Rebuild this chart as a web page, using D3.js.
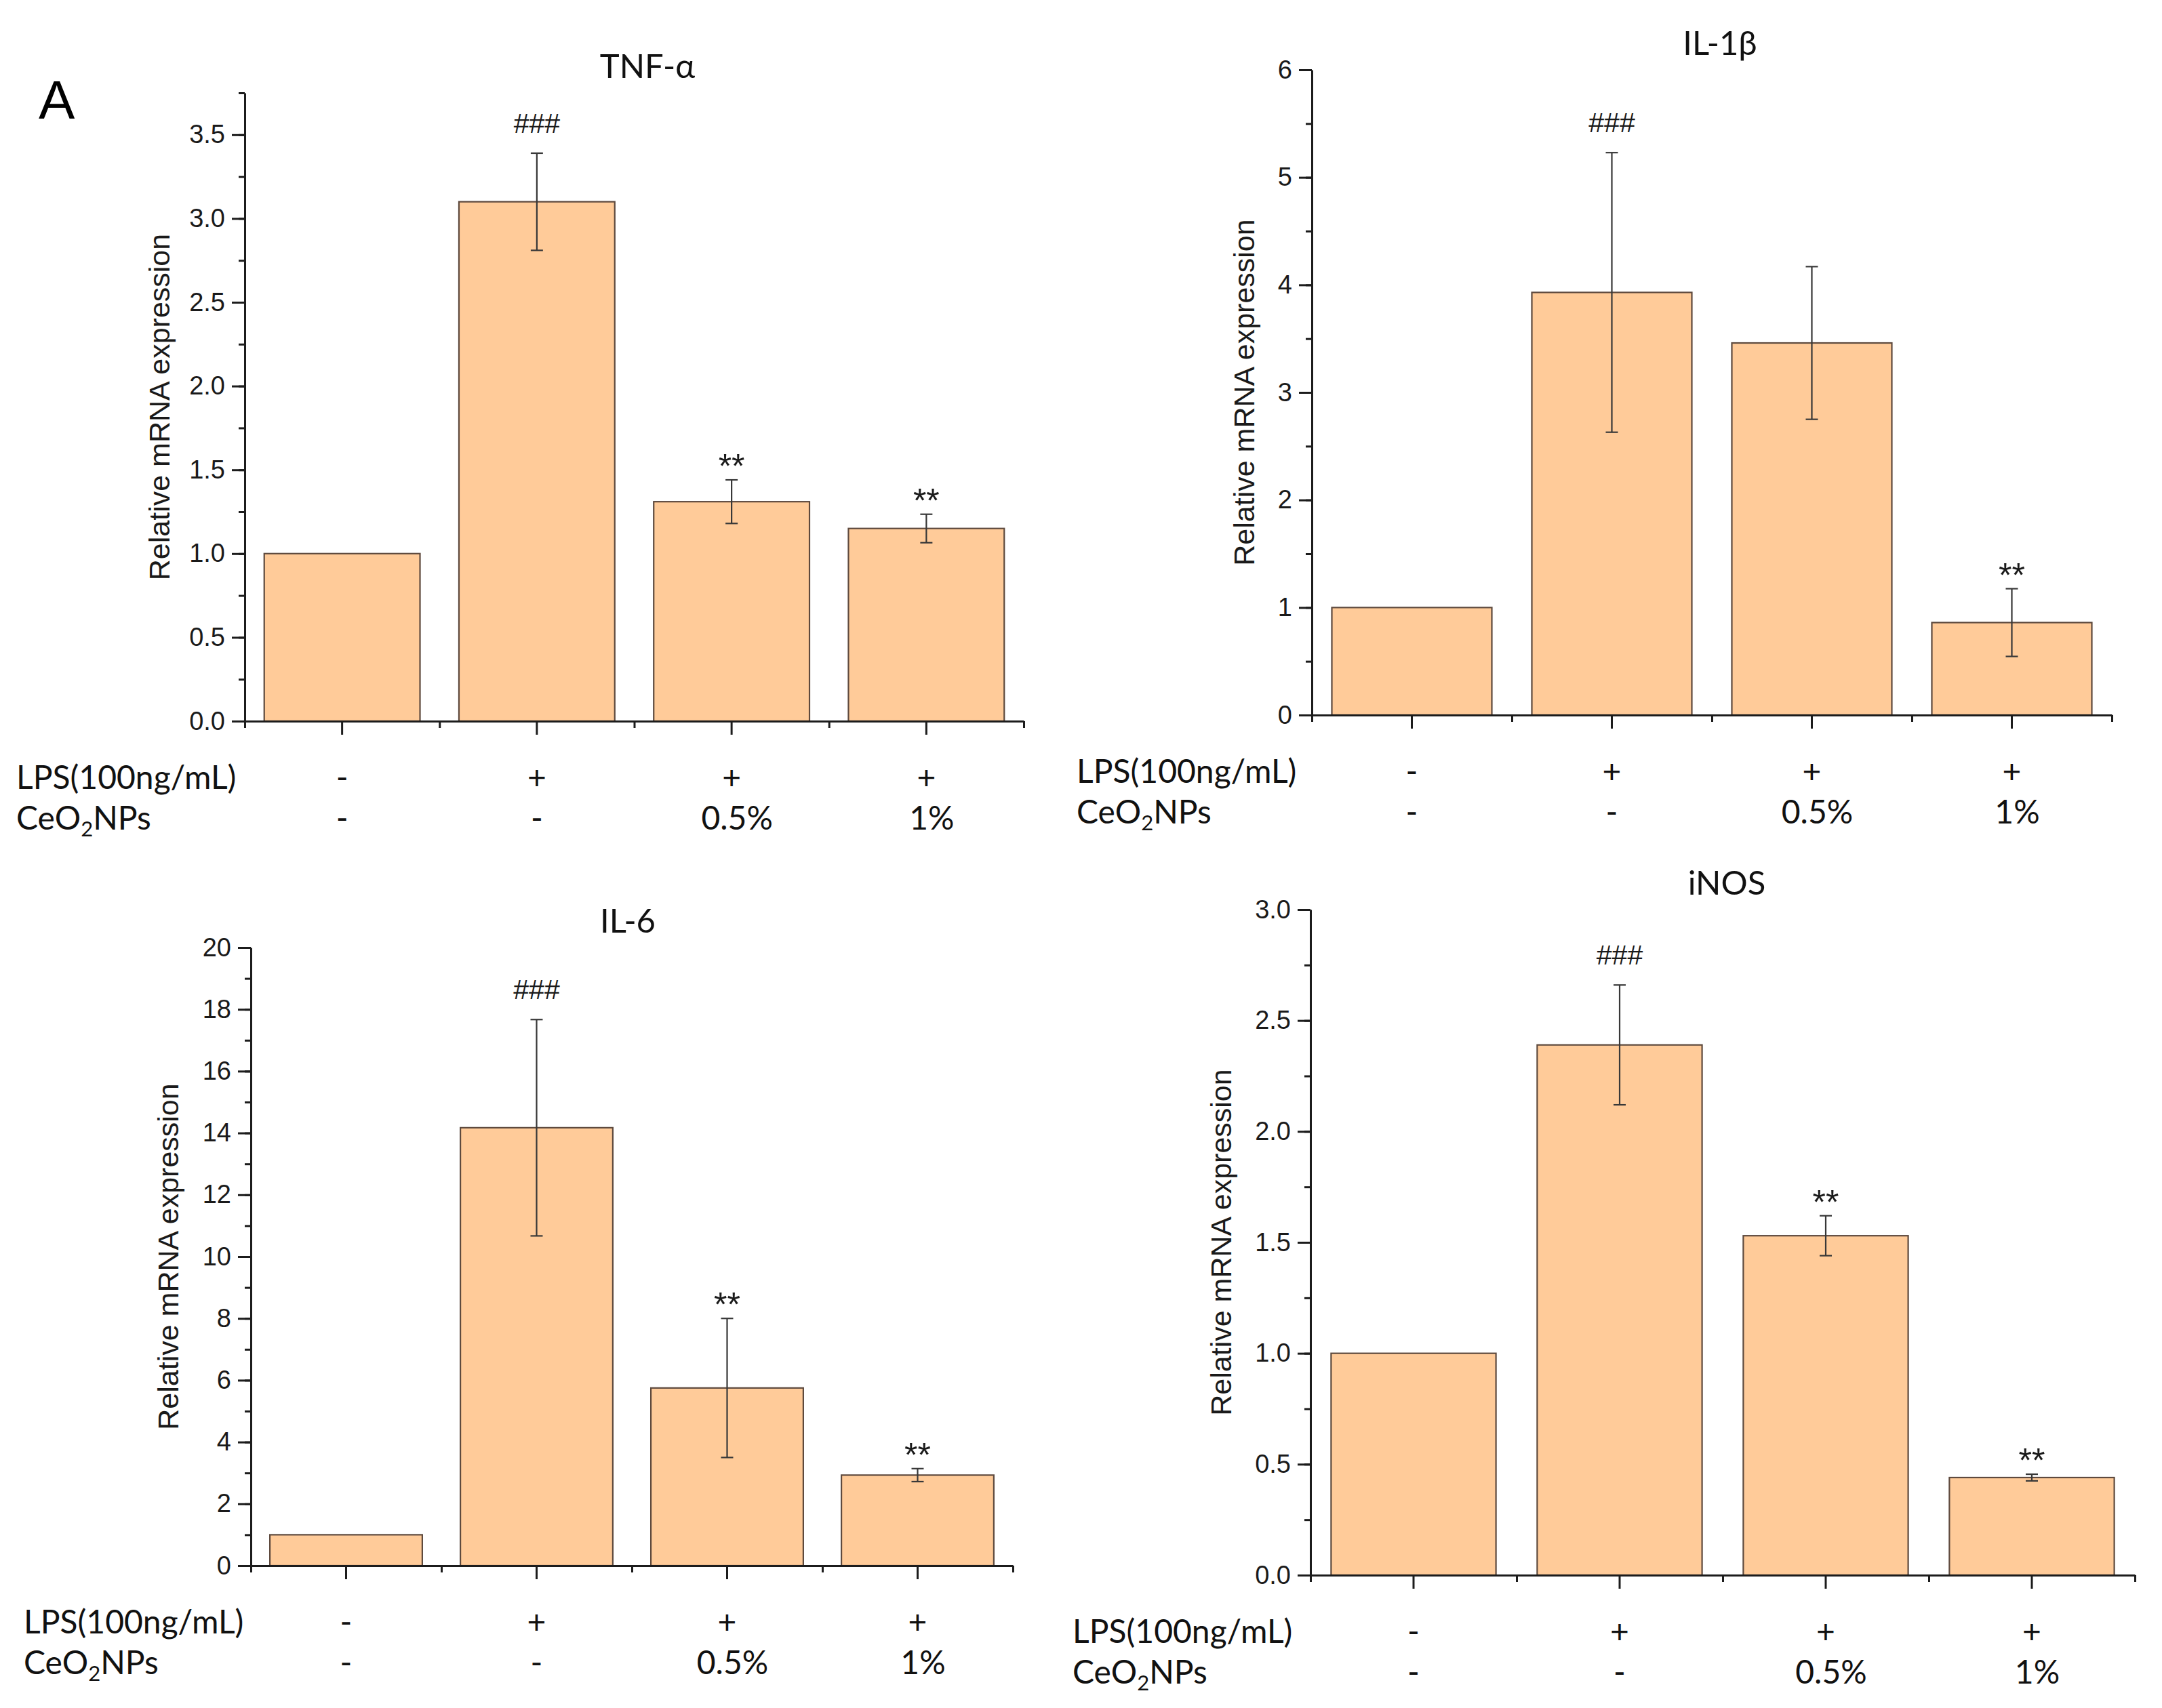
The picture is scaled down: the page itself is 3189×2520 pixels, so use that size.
<!DOCTYPE html>
<html>
<head>
<meta charset="utf-8">
<script src="https://cdn.jsdelivr.net/npm/d3@7"></script>
<style>
  body { margin: 0; background: #fff; }
  .tick text { font-family: "Liberation Sans", Arial, sans-serif; fill: #1a1a1a; }
  .domain, .tick line { stroke: #1c1c1c; stroke-width: 3; }
</style>
</head>
<body>
<script>
// groups and treatment rows
var groups = ["Control", "LPS", "LPS + 0.5%", "LPS + 1%"];
var lpsRow = ["-", "+", "+", "+"];
var ceoRow = ["-", "-", "0.5%", "1%"];

// TNF-a
var tnfMean = [1.00, 3.10, 1.31, 1.15];
var tnfErr  = [0, 0.29, 0.13, 0.085];
var tnfSig  = ["", "###", "**", "**"];
var tnfTicks = [0, 0.5, 1.0, 1.5, 2.0, 2.5, 3.0, 3.5];

// IL-1b
var il1bMean = [1.00, 3.93, 3.46, 0.86];
var il1bErr  = [0, 1.30, 0.71, 0.315];
var il1bSig  = ["", "###", "", "**"];
var il1bTicks = [0, 1, 2, 3, 4, 5, 6];

// IL-6
var il6Mean = [1.00, 14.17, 5.75, 2.93];
var il6Err  = [0, 3.50, 2.25, 0.21];
var il6Sig  = ["", "###", "**", "**"];
var il6Ticks = [0, 2, 4, 6, 8, 10, 12, 14, 16, 18, 20];

// iNOS
var inosMean = [1.00, 2.39, 1.53, 0.44];
var inosErr  = [0, 0.27, 0.09, 0.015];
var inosSig  = ["", "###", "**", "**"];
var inosTicks = [0, 0.5, 1.0, 1.5, 2.0, 2.5, 3.0];

var panels = [
  {title: "TNF-α", mean: tnfMean, err: tnfErr, sig: tnfSig, ticks: tnfTicks, minorStep: 0.25, yMax: 3.75, fmt: ".1f",
   box: {left: 361, right: 1510, top: 137, bottom: 1064, titleX: 955, labelX: 250, rowX: 24}},
  {title: "IL-1β", mean: il1bMean, err: il1bErr, sig: il1bSig, ticks: il1bTicks, minorStep: 0.5, yMax: 6, fmt: "d",
   box: {left: 1935, right: 3115, top: 103, bottom: 1055, titleX: 2537, labelX: 1850, rowX: 1588}},
  {title: "IL-6", mean: il6Mean, err: il6Err, sig: il6Sig, ticks: il6Ticks, minorStep: 1, yMax: 20, fmt: "d",
   box: {left: 370, right: 1494, top: 1398, bottom: 2310, titleX: 926, labelX: 263, rowX: 35}},
  {title: "iNOS", mean: inosMean, err: inosErr, sig: inosSig, ticks: inosTicks, minorStep: 0.25, yMax: 3, fmt: ".1f",
   box: {left: 1933, right: 3149, top: 1342, bottom: 2324, titleX: 2547, labelX: 1816, rowX: 1582}}
];

var svg = d3.select("body").append("svg")
            .attr("width", 3189).attr("height", 2520);

svg.append("text")
   .attr("x", 57).attr("y", 175)
   .style("font-family", "Liberation Sans, Arial, sans-serif")
   .style("font-size", "80px")
   .text("A");

var rowFont = "Lato, 'Open Sans', sans-serif";

function drawPanel(p) {
  var b = p.box;
  var x = d3.scaleBand().domain(groups).range([b.left, b.right])
            .paddingInner(0.2).paddingOuter(0.1);
  var y = d3.scaleLinear().domain([0, p.yMax]).range([b.bottom, b.top]);
  var g = svg.append("g");
  var cx = function(i){ return x(groups[i]) + x.bandwidth() / 2; };

  // bars
  g.append("g").selectAll("rect")
    .data(p.mean)
    .enter().append("rect")
    .attr("x", function(d, i){ return x(groups[i]); })
    .attr("y", function(d){ return y(d); })
    .attr("width", x.bandwidth())
    .attr("height", function(d){ return y(0) - y(d); })
    .attr("fill", "#ffcb99")
    .attr("stroke", "#5e4a3e")
    .attr("stroke-width", 2.2);

  // error bars
  var eb = g.append("g").attr("stroke", "#383838").attr("stroke-width", 2.2);
  p.mean.forEach(function(m, i){
    if (!p.err[i]) return;
    var hi = y(m + p.err[i]), lo = y(m - p.err[i]);
    eb.append("line").attr("x1", cx(i)).attr("x2", cx(i)).attr("y1", hi).attr("y2", lo);
    eb.append("line").attr("x1", cx(i) - 9).attr("x2", cx(i) + 9).attr("y1", hi).attr("y2", hi);
    eb.append("line").attr("x1", cx(i) - 9).attr("x2", cx(i) + 9).attr("y1", lo).attr("y2", lo);
  });

  // significance marks
  p.sig.forEach(function(s, i){
    if (!s) return;
    var top = y(p.mean[i] + p.err[i]);
    g.append("text")
      .attr("x", cx(i))
      .attr("y", s === "###" ? top - 30 : top - 3)
      .attr("text-anchor", "middle")
      .style("font-family", "Liberation Sans, Arial, sans-serif")
      .style("font-size", s === "###" ? "41px" : "50px")
      .style("fill", "#1a1a1a")
      .text(s);
  });

  // y axis: minor then major
  var minor = d3.range(0, p.yMax + 1e-9, p.minorStep);
  g.append("g").attr("transform", "translate(" + b.left + ",0)")
    .call(d3.axisLeft(y).tickValues(minor).tickSize(9).tickFormat(""))
    .call(function(s){ s.select(".domain").remove(); });
  g.append("g").attr("transform", "translate(" + b.left + ",0)")
    .call(d3.axisLeft(y).tickValues(p.ticks).tickSize(19).tickSizeOuter(0)
            .tickPadding(10).tickFormat(d3.format(p.fmt)))
    .selectAll("text").style("font-size", "38px");

  // x axis: group ticks plus boundary ticks
  var edges = d3.scaleLinear().domain([0, groups.length]).range([b.left, b.right]);
  g.append("g").attr("transform", "translate(0," + b.bottom + ")")
    .call(d3.axisBottom(edges).ticks(groups.length).tickSize(10).tickFormat(""))
    .call(function(s){ s.select(".domain").remove(); });
  g.append("g").attr("transform", "translate(0," + b.bottom + ")")
    .call(d3.axisBottom(x).tickSize(20).tickSizeOuter(0).tickFormat(""));

  // y label
  g.append("text")
    .attr("transform", "translate(" + b.labelX + "," + (b.top + b.bottom) / 2 + ") rotate(-90)")
    .attr("text-anchor", "middle")
    .style("font-family", "Liberation Sans, Arial, sans-serif")
    .style("font-size", "43px")
    .style("fill", "#1a1a1a")
    .text("Relative mRNA expression");

  // title
  g.append("text")
    .attr("x", b.titleX).attr("y", b.top - 22)
    .attr("text-anchor", "middle")
    .style("font-family", rowFont)
    .style("font-size", "49px")
    .style("fill", "#111")
    .text(p.title);

  // treatment rows
  var rowLps = b.bottom + 100, rowCeo = b.bottom + 160;
  g.append("text").attr("x", b.rowX).attr("y", rowLps)
    .style("font-family", rowFont).style("font-size", "48px").style("fill", "#111")
    .text("LPS(100ng/mL)");
  var ceo = g.append("text").attr("x", b.rowX).attr("y", rowCeo)
    .style("font-family", rowFont).style("font-size", "48px").style("fill", "#111");
  ceo.append("tspan").text("CeO");
  ceo.append("tspan").attr("dy", 10).style("font-size", "31px").text("2");
  ceo.append("tspan").attr("dy", -10).text("NPs");

  g.append("g").selectAll("text")
    .data(lpsRow)
    .enter().append("text")
    .attr("x", function(d, i){ return cx(i); })
    .attr("y", rowLps)
    .attr("text-anchor", "middle")
    .style("font-family", rowFont).style("font-size", "48px").style("fill", "#111")
    .text(function(d){ return d; });
  g.append("g").selectAll("text")
    .data(ceoRow)
    .enter().append("text")
    .attr("x", function(d, i){ return cx(i) + (d.length > 1 ? 8 : 0); })
    .attr("y", rowCeo)
    .attr("text-anchor", "middle")
    .style("font-family", rowFont).style("font-size", "48px").style("fill", "#111")
    .text(function(d){ return d; });
}

panels.forEach(drawPanel);
</script>
</body>
</html>
